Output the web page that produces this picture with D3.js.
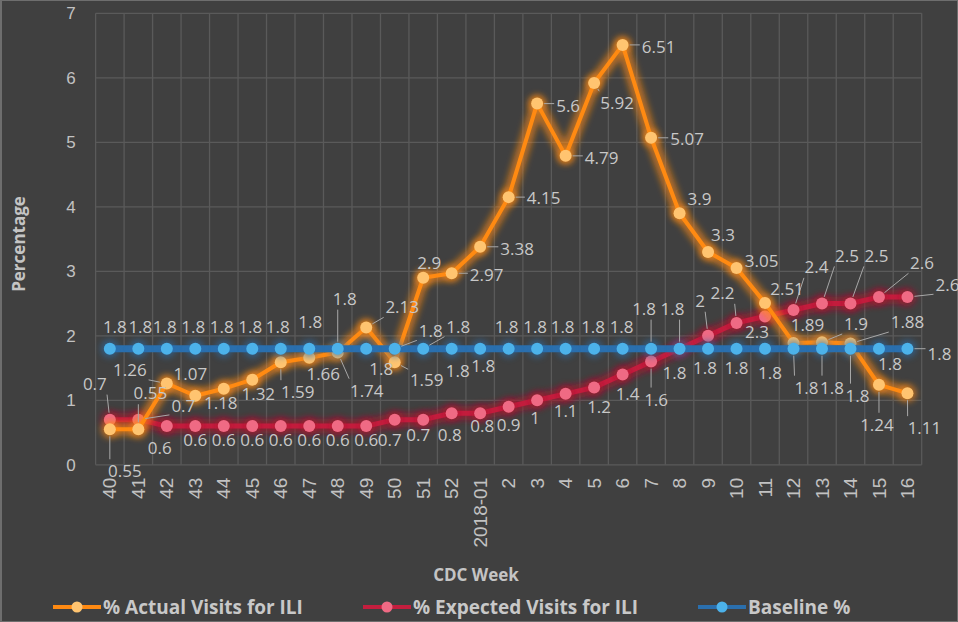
<!DOCTYPE html>
<html>
<head>
    <meta charset="utf-8">
    <title>ILI visits by CDC week</title>
    <script src="https://cdn.jsdelivr.net/npm/d3@7"></script>
    <style>
        html, body {
            margin: 0;
            padding: 0;
            background: #404040;
        }
        svg {
            display: block;
            font-family: 'Open Sans', sans-serif;
        }
        .grid line { stroke: #5a5a5a; stroke-width: 1.3px; }
        .tick-label { fill: #c2c2c2; font-size: 17px; }
        .x-tick { font-size: 19px; }
        .data-label { fill: #c8c8c8; font-size: 17px; }
        .leader { stroke: #a8a8a8; stroke-width: 1px; fill: none; }
        .axis-title { fill: #c4c4c4; font-size: 17px; font-weight: bold; }
        .legend-text { fill: #c8c8c8; font-size: 19px; font-weight: bold; }
    </style>
</head>
<body>
<svg id="chart" width="958" height="622"></svg>
<script>
// data
var weeks = ["40", "41", "42", "43", "44", "45", "46", "47", "48", "49", "50", "51", "52",
             "2018-01", "2", "3", "4", "5", "6", "7", "8", "9", "10", "11", "12", "13", "14", "15", "16"];
var actualVisits = [0.55, 0.55, 1.26, 1.07, 1.18, 1.32, 1.59, 1.66, 1.74, 2.13, 1.59, 2.9, 2.97,
                    3.38, 4.15, 5.6, 4.79, 5.92, 6.51, 5.07, 3.9, 3.3, 3.05, 2.51, 1.89, 1.9, 1.88, 1.24, 1.11];
var expectedVisits = [0.7, 0.7, 0.6, 0.6, 0.6, 0.6, 0.6, 0.6, 0.6, 0.6, 0.7, 0.7, 0.8,
                      0.8, 0.9, 1, 1.1, 1.2, 1.4, 1.6, 1.8, 2, 2.2, 2.3, 2.4, 2.5, 2.5, 2.6, 2.6];
var baselinePct = [1.8, 1.8, 1.8, 1.8, 1.8, 1.8, 1.8, 1.8, 1.8, 1.8, 1.8, 1.8, 1.8,
                   1.8, 1.8, 1.8, 1.8, 1.8, 1.8, 1.8, 1.8, 1.8, 1.8, 1.8, 1.8, 1.8, 1.8, 1.8, 1.8];
var yTicks = [0, 1, 2, 3, 4, 5, 6, 7];

// where each data label sits relative to its point (px), the chart's label layout
var actualLabelShift = [[15,42],[12,-36],[-37,-13],[-5,-22],[-3,14],[6,14],[17,30],[14,16],[29,38],[36,-20],
    [32,18],[6,-15],[35,2],[37,2],[35,1],[31,2],[36,2],[23,20],[36,2],[36,1],[20,-14],[15,-17],[25,-7],
    [22,-14],[14,-18],[34,-18],[57,-21],[-2,40],[17,35]];
var expectedLabelShift = [[-15,-36],[45,-14],[-7,22],[0,14],[0,14],[0,14],[0,14],[0,14],[0,14],[0,14],
    [-5,20],[-5,15],[-2,22],[2,13],[0,18],[-2,18],[0,17],[5,20],[5,20],[5,38],[-5,24],[-8,-35],[-14,-30],
    [-8,16],[23,-43],[25,-48],[26,-48],[43,-34],[40,-12]];
var baselineLabelShift = [[5,-22],[2,-22],[-2,-22],[-2,-22],[-2,-22],[-2,-22],[-3,-22],[1,-27],[7,-50],[15,20],
    [36,-18],[35,-22],[6,22],[3,17],[-2,-22],[-2,-22],[-3,-22],[-1,-22],[-1,-22],[-7,-40],[-7,-40],[-3,19],
    [0,19],[5,24],[13,39],[10,39],[7,47],[11,15],[32,5]];

var series = [
    {name: "% Expected Visits for ILI", values: expectedVisits, shift: expectedLabelShift,
     line: "#c41e3e", glow: "#b0102e", dot: "#ef6a84", width: 5},
    {name: "% Actual Visits for ILI", values: actualVisits, shift: actualLabelShift,
     line: "#ff8a12", glow: "#ff8a12", dot: "#ffc470", width: 4},
    {name: "Baseline %", values: baselinePct, shift: baselineLabelShift,
     line: "#2a6fae", glow: "#2a6fae", dot: "#4cb2ea", width: 7}
];
var legendOrder = [series[1], series[0], series[2]];

var svg = d3.select("#chart");
var W = 958, H = 622;
var plot = {left: 95.6, right: 921.7, top: 13.3, bottom: 464.8};

svg.append("rect").attr("x", 1).attr("y", 0).attr("width", W - 1).attr("height", H)
    .attr("fill", "#404040").attr("stroke", "#6e6e6e").attr("stroke-width", 2);

var x = d3.scaleBand().domain(weeks).range([plot.left, plot.right]).padding(0);
var y = d3.scaleLinear().domain([0, 7]).range([plot.bottom, plot.top]);
var cx = function(i) { return x(weeks[i]) + x.bandwidth() / 2; };

var defs = svg.append("defs");
defs.append("filter").attr("id", "blur").attr("x", "-50%").attr("y", "-50%")
    .attr("width", "200%").attr("height", "200%")
    .append("feGaussianBlur").attr("stdDeviation", 3);

// grid
var grid = svg.append("g").attr("class", "grid");
grid.selectAll("line.h").data(yTicks).enter().append("line").attr("class", "h")
    .attr("x1", plot.left).attr("x2", plot.right)
    .attr("y1", function(d) { return y(d); }).attr("y2", function(d) { return y(d); });
grid.selectAll("line.v").data(weeks.concat(["end"])).enter().append("line").attr("class", "v")
    .attr("x1", function(d, i) { return plot.left + i * x.bandwidth(); })
    .attr("x2", function(d, i) { return plot.left + i * x.bandwidth(); })
    .attr("y1", plot.top).attr("y2", plot.bottom);

// axes, drawn with d3 axis generators and then restyled
var yAxis = svg.append("g").attr("transform", "translate(" + plot.left + ",0)")
    .call(d3.axisLeft(y).tickValues(yTicks).tickSize(0).tickPadding(20).tickFormat(d3.format("d")));
yAxis.select(".domain").remove();
yAxis.selectAll("text").attr("class", "tick-label").attr("font-size", null).attr("font-family", null);

var xAxis = svg.append("g").attr("transform", "translate(0," + plot.bottom + ")")
    .call(d3.axisBottom(x).tickSize(0));
xAxis.select(".domain").remove();
xAxis.selectAll("text").attr("class", "tick-label x-tick").attr("font-size", null).attr("font-family", null)
    .attr("transform", "rotate(-90)").attr("text-anchor", "end")
    .attr("x", -13).attr("y", 0).attr("dy", "0.35em");

svg.append("text").attr("class", "axis-title")
    .attr("transform", "translate(25,244) rotate(-90)").attr("text-anchor", "middle")
    .text("Percentage");
svg.append("text").attr("class", "axis-title")
    .attr("x", 476).attr("y", 581).attr("text-anchor", "middle").text("CDC Week");

// series
var lineGen = function(s) {
    return d3.line().x(function(d, i) { return cx(i); }).y(function(d) { return y(d); })(s.values);
};
series.forEach(function(s) {
    var g = svg.append("g");
    g.append("path").attr("d", lineGen(s)).attr("fill", "none")
        .attr("stroke", s.glow).attr("stroke-width", s.width + 9).attr("stroke-opacity", 0.6)
        .attr("stroke-linejoin", "round").attr("filter", "url(#blur)");
    g.append("path").attr("d", lineGen(s)).attr("fill", "none")
        .attr("stroke", s.line).attr("stroke-width", s.width).attr("stroke-linejoin", "round");
    g.selectAll("circle.halo").data(s.values).enter().append("circle").attr("class", "halo")
        .attr("cx", function(d, i) { return cx(i); }).attr("cy", function(d) { return y(d); })
        .attr("r", 9).attr("fill", s.glow).attr("opacity", 0.6).attr("filter", "url(#blur)");
    g.selectAll("circle.dot").data(s.values).enter().append("circle").attr("class", "dot")
        .attr("cx", function(d, i) { return cx(i); }).attr("cy", function(d) { return y(d); })
        .attr("r", 6).attr("fill", s.dot);
});

// data labels with leader lines for the ones pushed away from their point
var labels = svg.append("g");
series.forEach(function(s) {
    s.values.forEach(function(v, i) {
        var px = cx(i), py = y(v);
        var dx = s.shift[i][0], dy = s.shift[i][1];
        var t = labels.append("text").attr("class", "data-label")
            .attr("x", px + dx).attr("y", py + dy).attr("dy", "0.35em")
            .attr("text-anchor", "middle").text(d3.format("")(v));
        if (Math.sqrt(dx * dx + dy * dy) > 30) {
            var b = t.node().getBBox();
            var tx = Math.max(b.x, Math.min(px, b.x + b.width));
            var ty = Math.max(b.y + 2, Math.min(py, b.y + b.height - 2));
            var ang = Math.atan2(ty - py, tx - px);
            labels.append("line").attr("class", "leader")
                .attr("x1", px + 7 * Math.cos(ang)).attr("y1", py + 7 * Math.sin(ang))
                .attr("x2", tx - 2 * Math.cos(ang)).attr("y2", ty - 2 * Math.sin(ang));
        }
    });
});

// legend
var legendX = [53, 363, 698];
var legend = svg.append("g");
legendOrder.forEach(function(s, k) {
    var lx = legendX[k], ly = 607;
    legend.append("line").attr("x1", lx).attr("x2", lx + 48).attr("y1", ly).attr("y2", ly)
        .attr("stroke", s.line).attr("stroke-width", 4);
    legend.append("circle").attr("cx", lx + 24).attr("cy", ly).attr("r", 5.5).attr("fill", s.dot);
    legend.append("text").attr("class", "legend-text").attr("x", lx + 50).attr("y", ly)
        .attr("dy", "0.35em").text(s.name);
});
</script>
</body>
</html>
